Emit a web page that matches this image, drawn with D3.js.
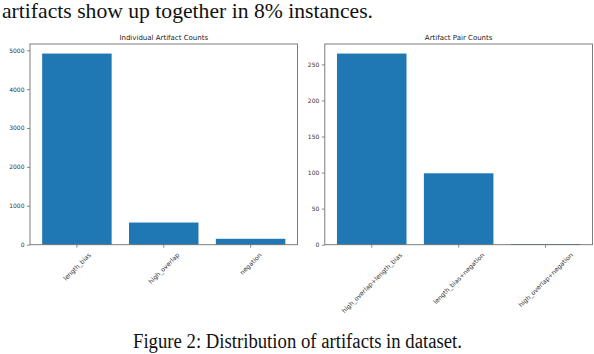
<!DOCTYPE html>
<html>
<head>
<meta charset="utf-8">
<script src="https://cdn.jsdelivr.net/npm/d3@7"></script>
<style>
  body { margin: 0; background: #fff; }
  svg { display: block; }
</style>
</head>
<body>
<svg id="chart" width="594" height="354"></svg>
<script>
"use strict";

// data
var singleLabels = ['length_bias', 'high_overlap', 'negation'];
var singleCounts = [4915, 570, 152];
var singleTicks = [0, 1000, 2000, 3000, 4000, 5000];

var pairLabels = ['high_overlap+length_bias', 'length_bias+negation', 'high_overlap+negation'];
var pairCounts = [265, 99, 1];
var pairTicks = [0, 50, 100, 150, 200, 250];

var barColor = '#1f77b4';
var axisColor = '#6f6f6f';
var textColor = '#333';

var svg = d3.select('#chart');

// text from the paper around the figure
svg.append('text')
	.attr('x', 2).attr('y', 18)
	.attr('font-family', 'Liberation Serif, Times New Roman, serif')
	.attr('font-size', 21)
	.attr('fill', '#111')
	.attr('textLength', 371)
	.attr('lengthAdjust', 'spacingAndGlyphs')
	.text('artifacts show up together in 8% instances.');

svg.append('text')
	.attr('x', 133).attr('y', 348)
	.attr('font-family', 'Liberation Serif, Times New Roman, serif')
	.attr('font-size', 20)
	.attr('fill', '#111')
	.attr('textLength', 329)
	.attr('lengthAdjust', 'spacingAndGlyphs')
	.text('Figure 2: Distribution of artifacts in dataset.');

function drawPanel(opts) {
	var x = d3.scaleLinear()
		.domain([-0.54, opts.labels.length - 1 + 0.54])
		.range([opts.left, opts.right]);
	var y = d3.scaleLinear()
		.domain([0, d3.max(opts.values) * 1.05])
		.range([opts.bottom, opts.top]);
	var step = x(1) - x(0);

	var g = svg.append('g');

	g.selectAll('rect.bar')
		.data(opts.values)
		.enter().append('rect')
		.attr('class', 'bar')
		.attr('x', function(d, i) { return x(i - 0.4); })
		.attr('width', step * 0.8)
		.attr('y', function(d) { return y(d); })
		.attr('height', function(d) { return Math.max(y(0) - y(d), 0.8); })
		.attr('fill', barColor);

	// frame
	g.append('rect')
		.attr('x', opts.left).attr('y', opts.top)
		.attr('width', opts.right - opts.left)
		.attr('height', opts.bottom - opts.top)
		.attr('fill', 'none')
		.attr('stroke', axisColor)
		.attr('stroke-width', 0.9);

	// y axis
	var yAxis = d3.axisLeft(y).tickValues(opts.ticks).tickFormat(d3.format('d'))
		.tickSize(3).tickPadding(2.5);
	var ya = g.append('g')
		.attr('transform', 'translate(' + opts.left + ',0)')
		.call(yAxis);
	ya.select('.domain').remove();
	ya.selectAll('line').attr('stroke', axisColor).attr('stroke-width', 0.8);
	ya.selectAll('text')
		.attr('font-family', 'DejaVu Sans, sans-serif')
		.attr('font-size', 6)
		.attr('fill', textColor);

	// x ticks
	var idx = d3.range(opts.labels.length);
	g.selectAll('line.xtick')
		.data(idx)
		.enter().append('line')
		.attr('class', 'xtick')
		.attr('x1', function(i) { return x(i); })
		.attr('x2', function(i) { return x(i); })
		.attr('y1', opts.bottom)
		.attr('y2', opts.bottom + 3)
		.attr('stroke', axisColor)
		.attr('stroke-width', 0.8);

	// rotated labels, centred under the tick like matplotlib rotation=45
	var fs = 6.3;
	var labelTop = opts.bottom + 6.5;
	g.selectAll('text.xlab')
		.data(idx)
		.enter().append('text')
		.attr('class', 'xlab')
		.attr('font-family', 'DejaVu Sans, sans-serif')
		.attr('font-size', fs)
		.attr('fill', textColor)
		.attr('text-anchor', 'middle')
		.attr('dominant-baseline', 'central')
		.text(function(i) { return opts.labels[i]; })
		.each(function(i) {
			var len = this.getComputedTextLength();
			var cy = labelTop + (len + fs * 1.15) * Math.SQRT1_2 / 2;
			d3.select(this)
				.attr('x', x(i)).attr('y', cy)
				.attr('transform', 'rotate(-45,' + x(i) + ',' + cy + ')');
		});

	// panel title
	g.append('text')
		.attr('x', (opts.left + opts.right) / 2)
		.attr('y', opts.top - 4)
		.attr('text-anchor', 'middle')
		.attr('font-family', 'DejaVu Sans, sans-serif')
		.attr('font-size', 7)
		.attr('fill', '#222')
		.text(opts.title);
}

drawPanel({
	title: 'Individual Artifact Counts',
	labels: singleLabels, values: singleCounts, ticks: singleTicks,
	left: 30, right: 297.5, top: 44, bottom: 244.7
});

drawPanel({
	title: 'Artifact Pair Counts',
	labels: pairLabels, values: pairCounts, ticks: pairTicks,
	left: 324.8, right: 592.5, top: 44, bottom: 244.7
});
</script>
</body>
</html>
